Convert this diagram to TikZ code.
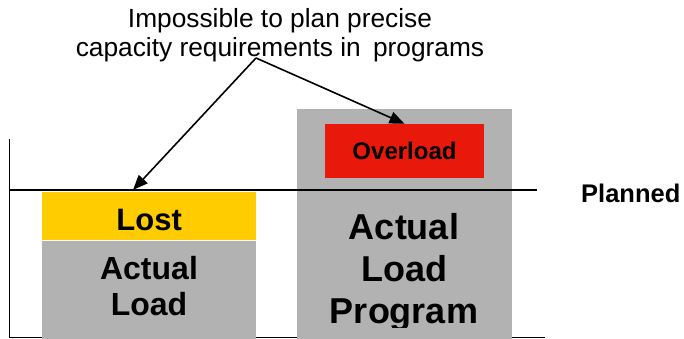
\documentclass[tikz,border=0pt]{standalone}
\usepackage{fontspec}
\setmainfont{Liberation Sans}
\usetikzlibrary{arrows.meta,positioning}
\definecolor{loadgray}{RGB}{178,178,178}
\definecolor{lostyellow}{RGB}{255,204,0}
\definecolor{overred}{RGB}{232,25,10}

\begin{document}
\begin{tikzpicture}[x=1pt,y=1pt,>={Triangle[length=15pt,width=12pt]},
    bar/.style={fill=loadgray,inner sep=0pt,anchor=south west},
    axisline/.style={line width=1.6pt},
    pointer/.style={->,line width=1.6pt}]
    \useasboundingbox (0,0) rectangle (684,339);
    % axes of the load chart
    \draw[axisline] (9.5,200) -- (9.5,1.5) -- (545,1.5);
    % actual load with the lost part on top
    \node[bar,minimum width=214pt,minimum height=100pt] (actual) at (42,-2) {};
    \node[bar,fill=lostyellow,minimum width=214pt,minimum height=48pt,anchor=south,
          text height=28pt,font=\bfseries\fontsize{31}{35}\selectfont] (lost) at (actual.north) {Lost};
    \node[font=\bfseries\fontsize{32}{36}\selectfont,align=center,inner sep=0pt]
        (actualtext) at (149,52.7) {Actual\\Load};
    % program load with the overload
    \node[bar,minimum width=215pt,minimum height=232pt] (program) at (297,-2) {};
    \node[fill=overred,minimum width=159pt,minimum height=54pt,inner sep=0pt,
          font=\bfseries\fontsize{24}{28}\selectfont] (over) at (404.5,188) {Overload};
    \begin{scope}
        \clip (297,11) rectangle (512,230);
        \node[font=\bfseries\fontsize{36}{42}\selectfont,align=center,inner sep=0pt]
            (programtext) at (404,67) {Actual\\Load\\Program};
    \end{scope}
    % planned level
    \draw[axisline] (9.5,149) -- (537,149);
    \node[font=\bfseries\fontsize{25.5}{30}\selectfont,anchor=base west,inner sep=0pt]
        (planned) at (581,136) {Planned};
    % note and its pointers
    \node[font=\fontsize{26.3}{29.5}\selectfont,align=center,inner sep=0pt]
        (note) at (280,304) {Impossible to plan precise\\capacity requirements in\hspace{5pt} programs};
    \coordinate (fork) at (256,281);
    \coordinate (lostmark) at (133,149);
    \draw[pointer] (fork) -- (lostmark);
    \draw[pointer] (fork) -- (over.north);
\end{tikzpicture}
\end{document}
